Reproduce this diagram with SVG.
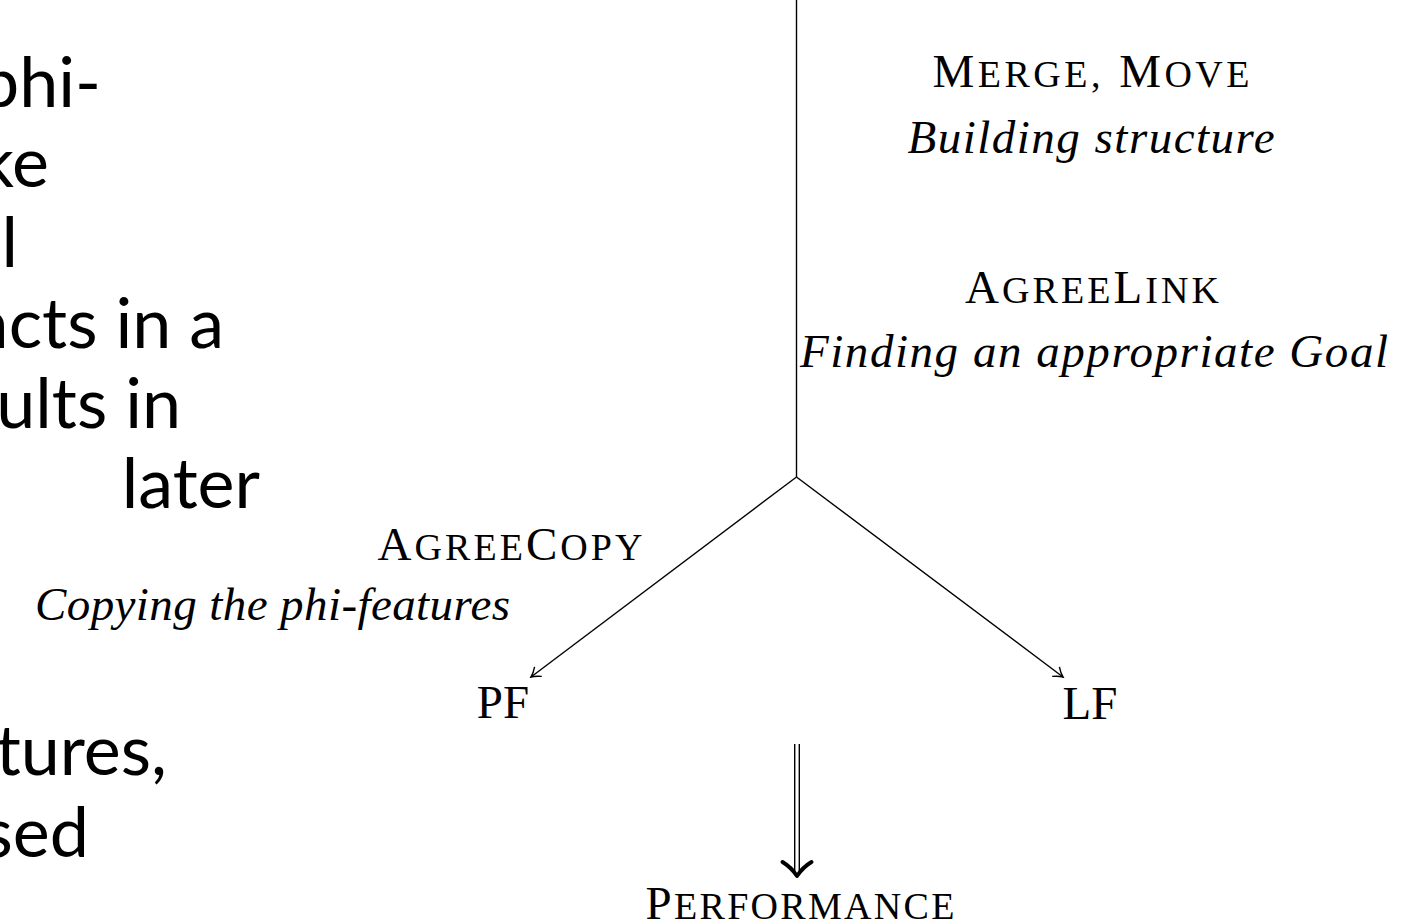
<svg xmlns="http://www.w3.org/2000/svg" width="1409" height="924" viewBox="0 0 1409 924">
<style>
  .cm { font-family: "Liberation Serif", "DejaVu Serif", serif; fill: #000; }
  .cap { font-size: 47px; }
  .sc { font-size: 38px; }
  .it { font-family: "Liberation Serif", "DejaVu Serif", serif; font-style: italic; font-size: 47px; fill: #000; }
  .slide { font-family: Lato, "Open Sans", sans-serif; font-size: 70px; fill: #000; }
  .ln { stroke: #000; stroke-width: 1.4; fill: none; }
</style>
<defs>
  <marker id="to" markerUnits="userSpaceOnUse" viewBox="-12 -8 14 16" refX="0" refY="0" markerWidth="14" markerHeight="16" orient="auto">
    <path d="M-9,-6 Q-4,-1.5 0,0 Q-4,1.5 -9,6" fill="none" stroke="#000" stroke-width="1.4"/>
  </marker>
</defs>
<rect x="0" y="0" width="1409" height="924" fill="#fff"/>

<g id="slide-text" class="slide" text-anchor="end">
  <text x="101" y="107">phi-</text>
  <text x="49" y="187">ke</text>
  <text x="18" y="267">l</text>
  <text x="224" y="348">ncts in a</text>
  <text x="181" y="428">ults in</text>
  <text x="260" y="508">later</text>
  <text x="167" y="775">tures,</text>
  <text x="89" y="857">sed</text>
</g>

<g id="connectors">
  <line class="ln" x1="796.5" y1="0" x2="796.5" y2="477"/>
  <line class="ln" x1="796.5" y1="477" x2="531" y2="677" marker-end="url(#to)"/>
  <line class="ln" x1="796.5" y1="477" x2="1063" y2="677" marker-end="url(#to)"/>
  <line class="ln" x1="794.7" y1="744" x2="794.7" y2="872" stroke-width="1.2"/>
  <line class="ln" x1="799.3" y1="744" x2="799.3" y2="872" stroke-width="1.2"/>
  <path d="M782.5,862 Q791,867 797,876 Q803,867 811.5,862" fill="none" stroke="#000" stroke-width="4" stroke-linecap="round" stroke-linejoin="round"/>
</g>

<g id="node-merge-move">
  <text class="cm" x="1091" y="87" text-anchor="middle" textLength="317"><tspan class="cap">M</tspan><tspan class="sc">ERGE,</tspan><tspan class="cap"> M</tspan><tspan class="sc">OVE</tspan></text>
  <text class="it" x="1091" y="153" text-anchor="middle" textLength="367">Building structure</text>
</g>

<g id="node-agreelink">
  <text class="cm" x="1092" y="303" text-anchor="middle" textLength="254"><tspan class="cap">A</tspan><tspan class="sc">GREE</tspan><tspan class="cap">L</tspan><tspan class="sc">INK</tspan></text>
  <text class="it" x="1094" y="367" text-anchor="middle" textLength="588">Finding an appropriate Goal</text>
</g>

<g id="node-agreecopy">
  <text class="cm" x="510" y="560" text-anchor="middle" textLength="265"><tspan class="cap">A</tspan><tspan class="sc">GREE</tspan><tspan class="cap">C</tspan><tspan class="sc">OPY</tspan></text>
  <text class="it" x="510" y="620" text-anchor="end" textLength="475">Copying the phi-features</text>
</g>

<g id="node-pf">
  <text class="cm cap" x="503" y="718" text-anchor="middle">PF</text>
</g>

<g id="node-lf">
  <text class="cm cap" x="1090" y="719" text-anchor="middle">LF</text>
</g>

<g id="node-performance">
  <text class="cm" x="800" y="919" text-anchor="middle" textLength="309"><tspan class="cap">P</tspan><tspan class="sc">ERFORMANCE</tspan></text>
</g>
</svg>
